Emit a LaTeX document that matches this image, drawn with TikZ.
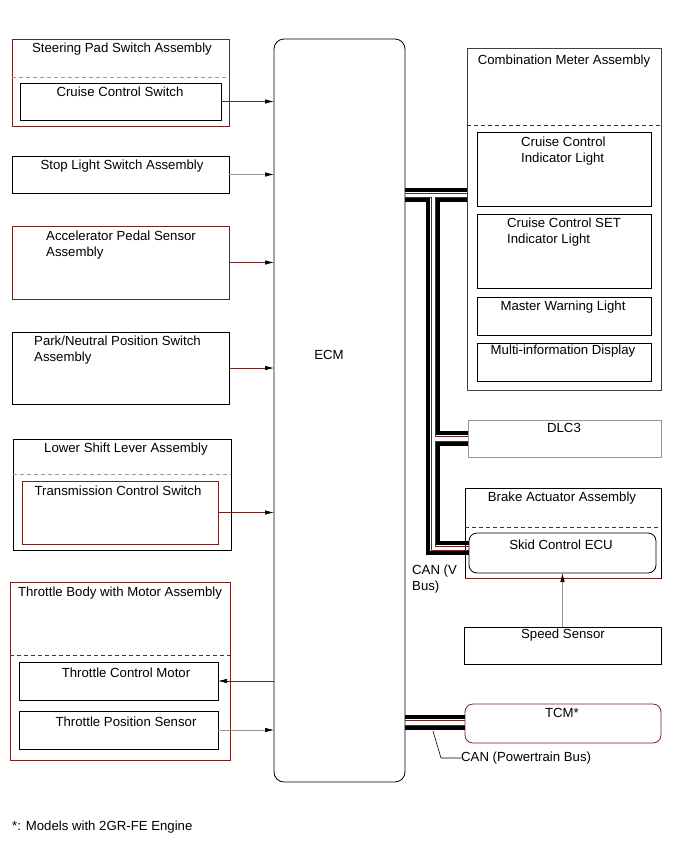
\documentclass[tikz,border=0pt]{standalone}
\usepackage{fontspec}
\setmainfont{Liberation Sans}
\usepackage{xcolor}
\usepackage{tikz}
\usetikzlibrary{positioning,arrows.meta,calc}

\definecolor{rim}{RGB}{110,35,35}
\definecolor{rimgray}{RGB}{150,150,150}

\begin{document}
\begin{tikzpicture}[x=1pt, y=-1pt,
        box/.style={rectangle, draw=black, line width=0.8pt, inner sep=0pt, outer sep=0pt, anchor=north west},
        rbox/.style={box, rounded corners=8pt},
        txt/.style={font=\fontsize{13.2}{16}\selectfont, inner sep=0pt},
        sep/.style={dashed, dash pattern=on 4pt off 3pt, line width=0.8pt},
        sig/.style={draw=rim, line width=0.7pt, -{Latex[length=9pt,width=4.5pt,color=black]}},
        wire/.style={line width=3.2pt, black},
        thin/.style={line width=0.6pt, rim}
    ]
    \useasboundingbox (0,0) rectangle (690,855);

    % ECM
    \node[box, rounded corners=10pt, minimum width=131pt, minimum height=743pt] (ecm) at (274,39) {};
    \node[txt] (ecmt) at (329,355) {ECM};

    % Left side
    \node[box, draw=rim, minimum width=217pt, minimum height=87pt] (spsa) at (12,39) {};
    \draw[sep, rimgray] ($(spsa.north west)+(0,38)$) -- ($(spsa.north east)+(0,38)$);
    \node[box, minimum width=201pt, minimum height=37pt] (ccsw) at (20,83) {};
    \node[txt] (spsat) at (122,49) {Steering Pad Switch Assembly};
    \node[txt] (ccswt) at (120,92) {Cruise Control Switch};

    \node[box, minimum width=217pt, minimum height=37pt] (stop) at (12,156) {};
    \node[txt] (stopt) at (122,166) {Stop Light Switch Assembly};

    \node[box, draw=rim, minimum width=217pt, minimum height=73pt] (apsa) at (12,226) {};
    \node[txt, align=left, anchor=west] (apsat) at (46,245) {Accelerator Pedal Sensor\\Assembly};

    \node[box, minimum width=217pt, minimum height=72pt] (pnps) at (12,332) {};
    \node[txt, align=left, anchor=west] (pnpst) at (34,350) {Park/Neutral Position Switch\\Assembly};

    \node[box, minimum width=218pt, minimum height=111pt] (lsla) at (13,439) {};
    \draw[sep, rimgray] ($(lsla.north west)+(0,35)$) -- ($(lsla.north east)+(0,35)$);
    \node[box, draw=rim, minimum width=196pt, minimum height=63pt] (tcsw) at (22,481) {};
    \node[txt] (lslat) at (126,449) {Lower Shift Lever Assembly};
    \node[txt] (tcswt) at (118,491) {Transmission Control Switch};

    \node[box, draw=rim, minimum width=220pt, minimum height=178pt] (tbma) at (10,582) {};
    \draw[sep, rim] ($(tbma.north west)+(0,73)$) -- ($(tbma.north east)+(0,73)$);
    \node[box, minimum width=199pt, minimum height=38pt] (tcmo) at (19,662) {};
    \node[box, minimum width=199pt, minimum height=38pt] (tpos) at (19,711) {};
    \node[txt] (tbmat) at (120,593) {Throttle Body with Motor Assembly};
    \node[txt] (tcmot) at (126,673) {Throttle Control Motor};
    \node[txt] (tpost) at (126,722) {Throttle Position Sensor};

    % Right side
    \node[box, draw=black!75, minimum width=194pt, minimum height=342pt] (cma) at (467,48) {};
    \draw[sep, black!80] ($(cma.north west)+(0,77)$) -- ($(cma.north east)+(0,77)$);
    \node[box, minimum width=174pt, minimum height=74pt] (ccil) at (477,132) {};
    \node[box, minimum width=174pt, minimum height=74pt] (csil) at (477,214) {};
    \node[box, minimum width=174pt, minimum height=38pt] (mwl) at (477,297) {};
    \node[box, minimum width=174pt, minimum height=38pt] (mid) at (477,343) {};
    \node[txt] (cmat) at (564,61) {Combination Meter Assembly};
    \node[txt, align=left, anchor=west] (ccilt) at (521,151) {Cruise Control\\Indicator Light};
    \node[txt, align=left, anchor=west] (csilt) at (507,232) {Cruise Control SET\\Indicator Light};
    \node[txt] (mwlt) at (563,307) {Master Warning Light};
    \node[txt] (midt) at (563,351) {Multi-information Display};

    \node[box, draw=rimgray, minimum width=193pt, minimum height=37pt] (dlc) at (468,420) {};
    \node[txt] (dlct) at (564,428) {DLC3};

    \node[box, minimum width=196pt, minimum height=90pt] (baa) at (465,488) {};
    \draw[rim, line width=0.8pt] (baa.south west) -- (baa.south east);
    \draw[sep, rim] ($(baa.north west)+(0,39)$) -- ($(baa.north east)+(0,39)$);
    \node[rbox, minimum width=187pt, minimum height=40pt] (scecu) at (469,533) {};
    \node[txt] (baat) at (562,498) {Brake Actuator Assembly};
    \node[txt] (scecut) at (561,545) {Skid Control ECU};

    \node[box, minimum width=197pt, minimum height=37pt] (spd) at (464,627) {};
    \node[txt] (spdt) at (563,635) {Speed Sensor};

    \node[rbox, draw=rim, minimum width=196pt, minimum height=39pt] (tcm) at (465,704) {};
    \node[txt] (tcmt) at (562,713) {TCM*};

    % Signals
    \draw[sig] (ccsw.east) -- (ccsw.east -| ecm.west);
    \draw[sig, draw=rimgray] (stop.east) -- (stop.east -| ecm.west);
    \draw[sig] (apsa.east) -- (apsa.east -| ecm.west);
    \draw[sig] (pnps.east) -- (pnps.east -| ecm.west);
    \draw[sig] (tcsw.east) -- (tcsw.east -| ecm.west);
    \draw[sig] (tcmo.east -| ecm.west) -- (tcmo.east);
    \draw[sig, draw=rimgray] (tpos.east) -- (tpos.east -| ecm.west);
    \draw[sig, draw=rimgray] (spd.north) -- (scecu.south);

    % CAN (V Bus)
    \draw[wire] (ecm.east |- 0,190) -- (cma.west |- 0,190);
    \draw[wire] (ecm.east |- 0,200) -- (428,200) -- (428,553) -- (scecu.west |- 0,553);
    \draw[wire] (cma.west |- 0,200) -- (438,200) -- (438,433) -- (dlc.west |- 0,433);
    \draw[wire] (dlc.west |- 0,444) -- (438,444) -- (438,543) -- (scecu.west |- 0,543);
    \draw[thin] (ecm.east |- 0,193) -- (cma.west |- 0,193);
    \draw[thin] (ecm.east |- 0,197) -- (431,197) -- (431,550) -- (scecu.west |- 0,550);
    \draw[thin] (cma.west |- 0,197) -- (435,197) -- (435,436) -- (dlc.west |- 0,436);
    \draw[thin] (dlc.west |- 0,441) -- (435,441) -- (435,546) -- (scecu.west |- 0,546);
    \node[txt, align=left, anchor=west] (vbus) at (412,579) {CAN (V\\Bus)};

    % CAN (Powertrain Bus)
    \draw[wire] (ecm.east |- 0,717) -- (tcm.west |- 0,717);
    \draw[wire] (ecm.east |- 0,728) -- (tcm.west |- 0,728);
    \draw[thin] (ecm.east |- 0,720) -- (tcm.west |- 0,720);
    \draw[thin] (ecm.east |- 0,725) -- (tcm.west |- 0,725);
    \node[txt, anchor=west] (ptbus) at (461,758) {CAN (Powertrain Bus)};
    \draw[line width=0.6pt] (433,731) -- (441,758) -- (ptbus.west);

    % Note
    \node[txt, anchor=west] (note) at (12,827) {*: Models with 2GR-FE Engine};
\end{tikzpicture}
\end{document}
